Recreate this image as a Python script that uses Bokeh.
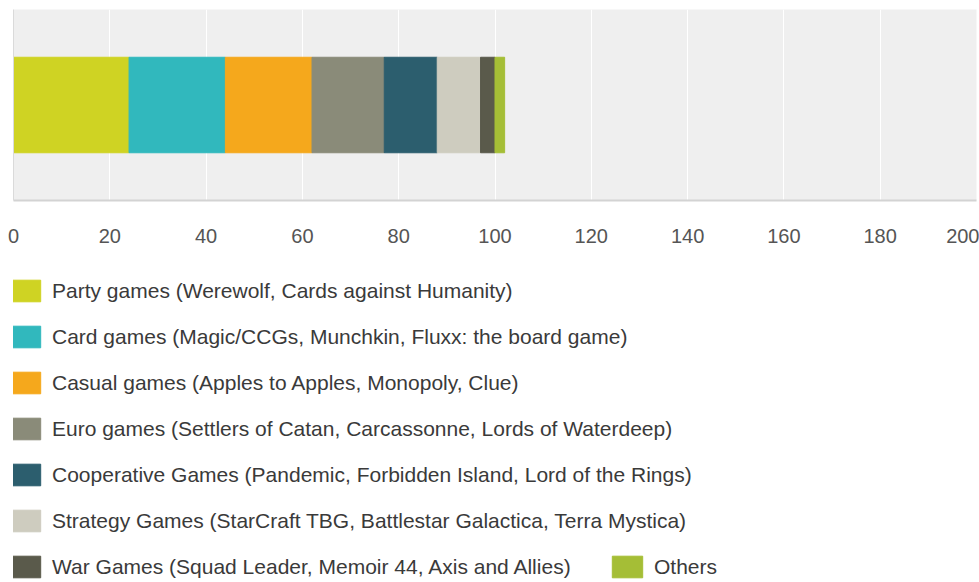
from bokeh.plotting import figure
from bokeh.layouts import column
from bokeh.models import ColumnDataSource, Range1d, FixedTicker, Legend, LegendItem
from bokeh.embed import file_html
from bokeh.resources import INLINE

# ---- data ----
categories = [
    "Party games (Werewolf, Cards against Humanity)",
    "Card games (Magic/CCGs, Munchkin, Fluxx: the board game)",
    "Casual games (Apples to Apples, Monopoly, Clue)",
    "Euro games (Settlers of Catan, Carcassonne, Lords of Waterdeep)",
    "Cooperative Games (Pandemic, Forbidden Island, Lord of the Rings)",
    "Strategy Games (StarCraft TBG, Battlestar Galactica, Terra Mystica)",
    "War Games (Squad Leader, Memoir 44, Axis and Allies)",
    "Others",
]
values = [24, 20, 18, 15, 11, 9, 3, 2]
colors = ["#CFD323", "#31B8BD", "#F5A81C", "#8A8B79", "#2C5E6E", "#CECCBF", "#5A5A4B", "#A5BE36"]
x_ticks = [0, 20, 40, 60, 80, 100, 120, 140, 160, 180, 200]

FONT = "Liberation Sans"

data = {"y": [0]}
for c, v in zip(categories, values):
    data[c] = [v]
source = ColumnDataSource(data)

# ---- main bar chart ----
p = figure(width=979, height=250, output_backend="svg", toolbar_location=None,
           x_range=Range1d(0, 200), y_range=Range1d(-1, 1),
           min_border_left=13, min_border_right=3, min_border_top=9, min_border_bottom=50)

p.background_fill_color = "#EFEFEF"
p.border_fill_color = "white"
p.outline_line_color = None

renderers = p.hbar_stack(categories, y="y", height=1, color=colors, source=source)

p.xgrid.ticker = FixedTicker(ticks=x_ticks)
p.xgrid.grid_line_color = "white"
p.xgrid.grid_line_width = 1
p.ygrid.grid_line_color = None

p.xaxis.ticker = FixedTicker(ticks=x_ticks)
p.xaxis.axis_line_color = "#D3D3D3"
p.xaxis.axis_line_width = 2
p.xaxis.major_tick_line_color = None
p.xaxis.minor_tick_line_color = None
p.xaxis.major_tick_out = 0
p.xaxis.major_tick_in = 0
p.xaxis.major_label_standoff = 28
p.xaxis.major_label_text_font = FONT
p.xaxis.major_label_text_font_size = "20px"
p.xaxis.major_label_text_color = "#555555"

p.yaxis.ticker = FixedTicker(ticks=[])
p.yaxis.axis_line_color = "#DADADA"
p.yaxis.major_tick_line_color = None
p.yaxis.minor_tick_line_color = None
p.yaxis.major_tick_out = 0
p.yaxis.major_tick_in = 0
p.yaxis.minor_tick_out = 0
p.yaxis.major_label_standoff = 0

# ---- legend panel ----
lp = figure(width=979, height=330, output_backend="svg", toolbar_location=None,
            x_range=Range1d(0, 200), y_range=Range1d(-1, 1),
            x_axis_location=None, y_axis_location=None,
            min_border_left=0, min_border_right=0, min_border_top=0, min_border_bottom=0)
lp.outline_line_color = None
lp.xgrid.visible = False
lp.ygrid.visible = False
lp.background_fill_color = "white"
lp.border_fill_color = "white"

leg_renderers = lp.hbar_stack(categories, y="y", height=1, color=colors, source=source)
for r in leg_renderers:
    r.visible = False

items1 = [LegendItem(label=c, renderers=[r]) for c, r in zip(categories[:7], leg_renderers[:7])]
items2 = [LegendItem(label=categories[7], renderers=[leg_renderers[7]])]

def make_legend(items, loc):
    lg = Legend(items=items, location=loc, orientation="vertical")
    lg.glyph_width = 38
    lg.glyph_height = 27
    lg.label_height = 22
    lg.label_standoff = 8
    lg.spacing = 19
    lg.padding = 0
    lg.margin = 0
    lg.border_line_color = None
    lg.background_fill_alpha = 0
    lg.label_text_font = FONT
    lg.label_text_font_size = "21px"
    lg.label_text_color = "#3A3A3A"
    lg.click_policy = "none"
    return lg

lp.add_layout(make_legend(items1, (-7, 0)), "center")
lp.add_layout(make_legend(items2, (595, 0)), "center")

layout = column(p, lp, spacing=0)
open("out.html", "w").write(file_html(layout, INLINE))
